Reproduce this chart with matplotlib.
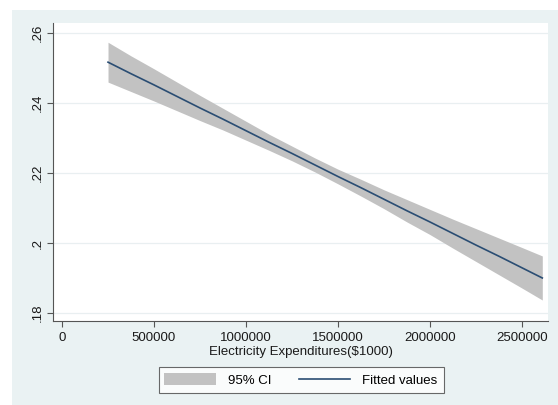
import matplotlib
matplotlib.use("Agg")
import matplotlib.pyplot as plt
from matplotlib.patches import Rectangle, Patch
from matplotlib.lines import Line2D

plt.rcParams['font.family'] = ['Liberation Sans', 'DejaVu Sans']

# Fitted values and 95% confidence band at points along the expenditure range
expend = [250000, 375000, 500000, 625000, 750000, 875000, 1000000,
          1125000, 1250000, 1375000, 1500000, 1625000, 1750000,
          1875000, 2000000, 2125000, 2250000, 2375000, 2500000, 2610000]
fitted = [0.2517, 0.2484, 0.2452, 0.2419, 0.2386, 0.2354, 0.2321,
          0.2288, 0.2256, 0.2223, 0.2190, 0.2158, 0.2125,
          0.2092, 0.2060, 0.2027, 0.1994, 0.1962, 0.1929, 0.1900]
ci_low = [0.2460, 0.2433, 0.2406, 0.2378, 0.2350, 0.2323, 0.2294,
          0.2265, 0.2235, 0.2203, 0.2169, 0.2134, 0.2098,
          0.2060, 0.2024, 0.1985, 0.1947, 0.1909, 0.1871, 0.1837]
ci_high = [0.2574, 0.2535, 0.2498, 0.2460, 0.2422, 0.2385, 0.2348,
           0.2311, 0.2277, 0.2243, 0.2211, 0.2182, 0.2152,
           0.2124, 0.2096, 0.2068, 0.2041, 0.2014, 0.1987, 0.1963]

x_ticks = [0, 500000, 1000000, 1500000, 2000000, 2500000]
x_tick_labels = ["0", "500000", "1000000", "1500000", "2000000", "2500000"]
y_ticks = [0.18, 0.20, 0.22, 0.24, 0.26]
y_tick_labels = [".18", ".2", ".22", ".24", ".26"]

W, H = 558, 405
fig = plt.figure(figsize=(W / 100, H / 100), dpi=100, facecolor="white")

# graph region background
fig.patches.append(Rectangle((12 / W, 0), 1 - 12 / W, 1 - 10 / H,
                             transform=fig.transFigure, facecolor="#eaf2f3",
                             edgecolor="none", zorder=-10))

ax = fig.add_axes([53 / W, (H - 321) / H, 495 / W, 298 / H])
ax.set_facecolor("white")

band_color = "#c2c2c2"
line_color = "#2a4d73"

ax.fill_between(expend, ci_low, ci_high, color=band_color, linewidth=0, zorder=2)
ax.plot(expend, fitted, color=line_color, linewidth=1.2, zorder=3)

ax.set_xlim(-49000, 2641000)
ax.set_ylim(0.1777, 0.2629)

ax.set_xticks(x_ticks)
ax.set_xticklabels(x_tick_labels)
ax.set_yticks(y_ticks)
ax.set_yticklabels(y_tick_labels, rotation=90, va="center")

ax.grid(axis="y", color="#e9eff1", linewidth=0.9, zorder=1)
ax.grid(axis="x", visible=False)
ax.set_axisbelow(True)

for side in ("top", "right"):
    ax.spines[side].set_visible(False)
for side in ("left", "bottom"):
    ax.spines[side].set_color("#555555")
    ax.spines[side].set_linewidth(0.8)

ax.tick_params(axis="both", direction="out", length=4, width=0.8,
               color="#555555", labelsize=9.5, labelcolor="#1a1a1a")
ax.tick_params(axis="y", pad=3)
ax.tick_params(axis="x", pad=4)

ax.set_xlabel("Electricity Expenditures($1000)", fontsize=9.5, color="#1a1a1a",
              labelpad=1)

handles = [Patch(facecolor=band_color, edgecolor="none"),
           Line2D([0], [0], color=line_color, linewidth=1.2)]
leg = fig.legend(handles, ["95% CI", "Fitted values"], ncol=2,
                 loc="center", bbox_to_anchor=(301 / W, 1 - 380 / H),
                 fontsize=9.5, frameon=True, fancybox=False,
                 handlelength=3.9, handleheight=1.0, columnspacing=2.1,
                 handletextpad=0.9, borderpad=0.45, borderaxespad=0)
leg.get_frame().set_edgecolor("#444444")
leg.get_frame().set_linewidth(0.8)
leg.get_frame().set_facecolor("white")

fig.savefig("out.png", dpi=100, facecolor=fig.get_facecolor())
